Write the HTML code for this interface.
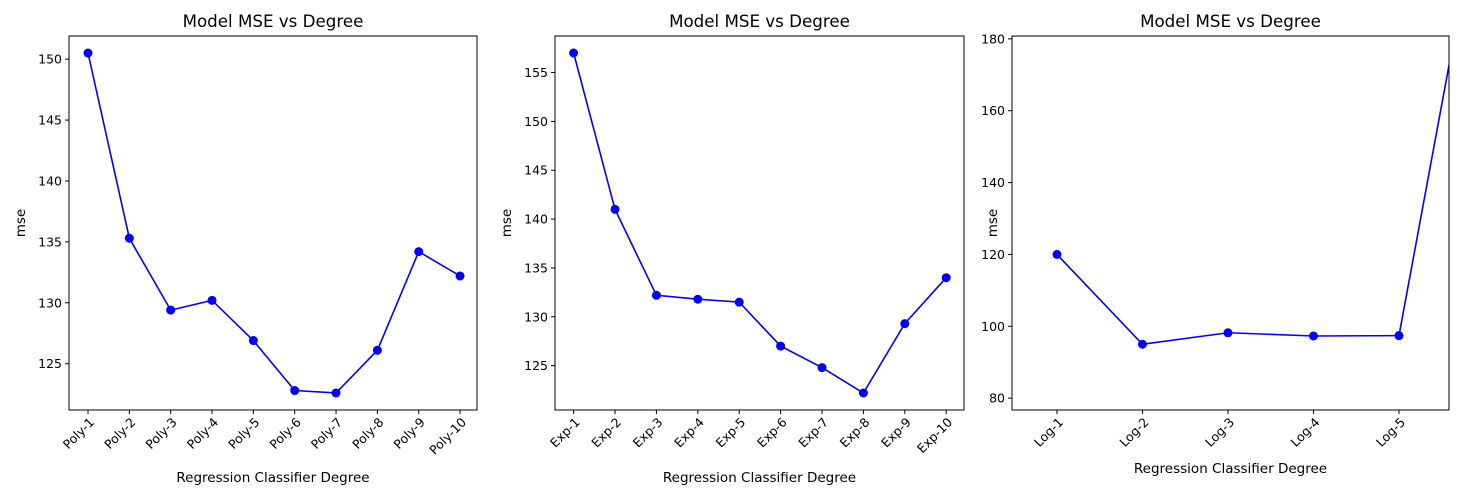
<!DOCTYPE html>
<html><head><meta charset="utf-8"><style>
body{margin:0;background:#fff;font-family:"DejaVu Sans","Liberation Sans",sans-serif;}
svg{display:block}
text{fill:#000}
</style></head><body>
<svg id="fig" width="1470" height="500" xmlns="http://www.w3.org/2000/svg"></svg>
<script>
const polyCats=["Poly-1","Poly-2","Poly-3","Poly-4","Poly-5","Poly-6","Poly-7","Poly-8","Poly-9","Poly-10"];
const polyVals=[150.5,135.3,129.4,130.2,126.9,122.8,122.6,126.1,134.2,132.2];
const polyTicks=[125,130,135,140,145,150];
const expCats=["Exp-1","Exp-2","Exp-3","Exp-4","Exp-5","Exp-6","Exp-7","Exp-8","Exp-9","Exp-10"];
const expVals=[157.0,141.0,132.2,131.8,131.5,127.0,124.8,122.2,129.3,134.0];
const expTicks=[125,130,135,140,145,150,155];
const logCats=["Log-1","Log-2","Log-3","Log-4","Log-5","Log-6"];
const logVals=[120.0,95.0,98.2,97.3,97.4,226];
const logTicks=[80,100,120,140,160,180];
const logTickCount=5;

const NS="http://www.w3.org/2000/svg";
const fig=document.getElementById('fig');
function el(tag,attrs,parent){const e=document.createElementNS(NS,tag);for(const k in attrs)e.setAttribute(k,attrs[k]);(parent||fig).appendChild(e);return e;}

function chart(id,L,R,T,B,cats,vals,ticks,xmin,xmax,ymin,ymax,nTicks,yTitleX,xTitleY){
  const g=el('g',{});
  
  
  const xs=i=>L+(i-xmin)/(xmax-xmin)*(R-L);
  const ys=v=>B-(v-ymin)/(ymax-ymin)*(B-T);
  const cp=el('clipPath',{id:'clip-'+id},g);
  el('rect',{x:L,y:T,width:R-L,height:B-T},cp);
  let d='';
  vals.forEach((v,i)=>{d+=(i?'L':'M')+xs(i)+','+ys(v);});
  const line=el('path',{d:d,fill:'none',stroke:'#0000ff','stroke-width':1.6,'clip-path':'url(#clip-'+id+')'},g);
  
  
  vals.forEach((v,i)=>{
    const c=el('circle',{cx:xs(i),cy:ys(v),r:4.5,fill:'#0000ff','clip-path':'url(#clip-'+id+')'},g);
    
    
  });
  const frame=el('rect',{x:L,y:T,width:R-L,height:B-T,fill:'none',stroke:'#000','stroke-width':1},g);
  
  
  const n=nTicks||cats.length;
  for(let i=0;i<n;i++){
    const x=xs(i);
    el('line',{x1:x,x2:x,y1:B,y2:B+4,stroke:'#000'},g);
    const ax=x+7, ay=B+13;
    const t=el('text',{x:ax,y:ay,'font-size':12.5,'text-anchor':'end',transform:'rotate(-45 '+ax+' '+ay+')'},g);
    t.textContent=cats[i];
    
    
  }
  ticks.forEach(v=>{
    const y=ys(v);
    el('line',{x1:L-4,x2:L,y1:y,y2:y,stroke:'#000'},g);
    const t=el('text',{x:L-7,y:y+4.5,'font-size':12.5,'text-anchor':'end'},g);
    t.textContent=v;
    
    
  });
  const tt=el('text',{x:(L+R)/2,y:T-9,'font-size':16.7,'text-anchor':'middle'},g);
  tt.textContent='Model MSE vs Degree';
  
  
  const xl=el('text',{x:(L+R)/2,y:xTitleY,'font-size':13.5,'text-anchor':'middle'},g);
  xl.textContent='Regression Classifier Degree';
  
  
  const yx=yTitleX, yy=(T+B)/2;
  const yl=el('text',{x:yx,y:yy,'font-size':13.5,'text-anchor':'middle',transform:'rotate(-90 '+yx+' '+yy+')'},g);
  yl.textContent='mse';
  
  
}
chart('poly',69,477,36,410,polyCats,polyVals,polyTicks,-0.46,9.41,121.2,151.9,0,25,482);
chart('exp',555,964,36,410,expCats,expVals,expTicks,-0.45,9.43,120.46,158.74,0,511,482);
chart('log',1012,1449,36,410,logCats,logVals,logTicks,-0.526,4.585,76.7,180.8,logTickCount,997,473);
</script>
</body></html>
